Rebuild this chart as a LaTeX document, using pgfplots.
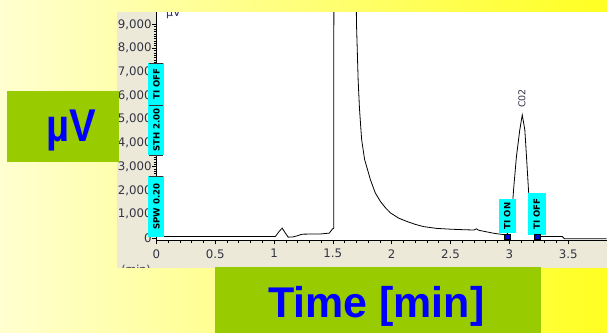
\documentclass[border=0pt]{standalone}
\usepackage{graphicx}
\usepackage{pgfplots}
\pgfplotsset{compat=1.18}
\usepackage{fontspec}
\setmainfont{DejaVu Sans}
\newfontfamily\arialfont{Liberation Sans}
\definecolor{panelgray}{HTML}{ECE9D8}
\definecolor{boxgreen}{HTML}{99CC00}
\definecolor{evcyan}{HTML}{00FFFF}
\definecolor{ticktext}{HTML}{333344}
\definecolor{bgleft}{HTML}{FFFFD0}
\definecolor{bgright}{HTML}{FFFF22}
\definecolor{labelblue}{HTML}{0000FF}

\pgfplotstableread{
t v
0 55
1.00 55
1.012 60
1.04 250
1.069 410
1.09 250
1.12 30
1.16 40
1.196 85
1.24 155
1.30 160
1.40 165
1.47 200
1.497 380
1.508 400
1.510 40000
1.60 60000
1.69 30000
1.696 11000
1.701 9000
1.707 8000
1.715 6650
1.726 5480
1.737 4675
1.745 4130
1.77 3300
1.82 2440
1.86 1900
1.905 1530
1.95 1250
1.99 1050
2.06 830
2.13 690
2.20 570
2.27 475
2.38 400
2.50 365
2.60 345
2.70 330
2.72 380
2.74 320
2.80 260
2.86 200
2.90 170
2.95 140
2.98 150
3.00 300
3.02 900
3.036 2020
3.06 3400
3.089 4550
3.11 5180
3.132 4550
3.15 3100
3.163 2020
3.18 900
3.20 300
3.22 100
3.26 60
3.45 55
3.47 -40
3.83 -40
}\trace

\begin{document}
\begin{tikzpicture}[x=1pt,y=1pt]
% background
\shade[left color=bgleft, right color=bgright] (0,0) rectangle (607,333);
\fill[panelgray] (117,65) rectangle (607,321);
\begin{scope}
\clip (117,65) rectangle (200,321);
\node[anchor=north, inner sep=0pt, text=ticktext, font=\fontsize{11}{11}\selectfont] at (136,68) {(min)};
\end{scope}
\begin{axis}[
  at={(156.5pt,92.5pt)}, anchor=south west,
  scale only axis, width=450.5pt, height=228.5pt,
  xmin=0, xmax=3.827, ymin=-105, ymax=9520,
  axis x line=bottom, axis y line=left,
  axis line style={-, black, line width=0.8pt},
  axis background/.style={fill=white},
  clip mode=individual,
  xtick={0,0.5,1,1.5,2,2.5,3,3.5},
  ytick={0,1000,2000,3000,4000,5000,6000,7000,8000,9000},
  minor x tick num=4, minor y tick num=9,
  tick align=outside, major tick length=4pt, minor tick length=2.5pt,
  tick style={black, line width=0.6pt},
  ticklabel style={font=\fontsize{11.8}{12}\selectfont, text=ticktext},
  /pgf/number format/assume math mode=true,
  y tick label style={/pgf/number format/1000 sep={,}, inner sep=0.5pt},
  x tick label style={yshift=-1.5pt},
  xticklabels={0,0.5,1,1.5,2,2.5,3,3.5},
]
\addplot[black, line width=0.8pt] table[x=t, y=v] {\trace};
% event boxes
\node[rotate=90, fill=evcyan, minimum width=61pt, minimum height=16pt, inner sep=0pt,
  font=\fontsize{8.6}{8.6}\selectfont\bfseries] at (axis cs:0,1310) {SPW 0.20};
\node[rotate=90, fill=evcyan, minimum width=50pt, minimum height=16pt, inner sep=0pt,
  font=\fontsize{8.6}{8.6}\selectfont\bfseries] at (axis cs:0,4549) {STH 2.00};
\node[rotate=90, fill=evcyan, minimum width=42pt, minimum height=16pt, inner sep=0pt,
  font=\fontsize{8.6}{8.6}\selectfont\bfseries] at (axis cs:0,6487) {TI OFF};
\draw[black!80, line width=0.5pt] (axis cs:-0.06,2580) -- (axis cs:0.06,2580);
\draw[black!80, line width=0.5pt] (axis cs:-0.06,3500) -- (axis cs:0.06,3500);
\draw[black!80, line width=0.5pt] (axis cs:-0.06,5600) -- (axis cs:0.06,5600);
\draw[black!80, line width=0.5pt] (axis cs:-0.06,7370) -- (axis cs:0.06,7370);
\node[rotate=90, fill=evcyan, minimum width=34pt, minimum height=17pt, inner sep=0pt,
  font=\fontsize{8.6}{8.6}\selectfont\bfseries] at (axis cs:2.982,927) {TI ON};
\node[rotate=90, fill=evcyan, minimum width=42pt, minimum height=18pt, inner sep=0pt,
  font=\fontsize{8.6}{8.6}\selectfont\bfseries] at (axis cs:3.233,1011) {TI OFF};
\addplot[only marks, mark=square*, mark size=2.6pt, mark options={fill=blue!85!black, draw=black, line width=0.4pt}]
  coordinates {(2.982,40) (3.237,40)};
\node[rotate=90, anchor=west, inner sep=0.5pt, text=ticktext,
  font=\fontsize{9.5}{9.5}\selectfont] at (axis cs:3.107,5450) {C02};
\end{axis}
% small unit label at top of plot
\node[anchor=north west, inner sep=0pt, text=ticktext!80!blue, font=\fontsize{11}{11}\selectfont] at (166,324.5) {µV};
% top strip of background over the cropped screenshot
\shade[left color=bgleft, right color=bgright] (0,321) rectangle (607,333);
% big labels
\fill[boxgreen] (7,171) rectangle (119,242);
\node[anchor=base, inner sep=0pt] at (71,191.3) {\arialfont\bfseries\color{labelblue}\fontsize{40}{40}\selectfont\scalebox{1}[1.15]{µV}};
\fill[boxgreen] (215,0) rectangle (541,66);
\node[anchor=base, inner sep=0pt] at (376.5,15) {\arialfont\bfseries\color{labelblue}\fontsize{43}{43}\selectfont Time [min]};
\end{tikzpicture}
\end{document}
